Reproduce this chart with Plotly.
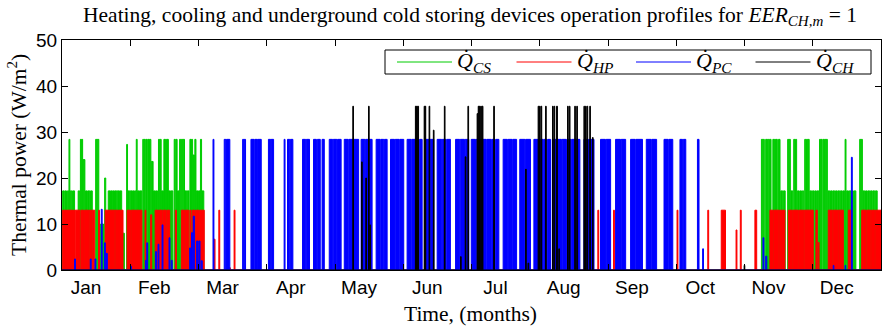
import plotly.graph_objects as go

# Operating profiles: each device is a list of pulses (start day, end day, power W/m2)
YEAR_DAYS = 365
MONTHS = ["Jan", "Feb", "Mar", "Apr", "May", "Jun",
          "Jul", "Aug", "Sep", "Oct", "Nov", "Dec"]

# underground cold storing
CS_PULSES = [
    (0.3, 1.0, 17.2), (1.3, 2.0, 17.2), (2.4, 3.0, 17.2), (3.1, 3.5, 28.4), (3.7, 4.4, 17.2),
    (4.7, 5.6, 17.2), (7.2, 7.9, 17.2), (8.2, 8.6, 28.4), (8.8, 9.2, 28.4), (9.4, 10.2, 24.0),
    (10.5, 11.3, 17.2), (11.6, 12.4, 17.2), (12.7, 13.5, 17.2), (15.0, 15.5, 28.4),
    (15.7, 16.4, 28.4), (17.2, 18.5, 10.0), (19.0, 19.5, 20.0), (20.6, 21.4, 17.2),
    (21.6, 22.4, 17.2), (22.6, 23.4, 17.2), (23.6, 24.4, 17.2), (24.6, 25.4, 17.2),
    (25.6, 26.6, 17.2), (27.0, 27.8, 8.0), (28.8, 29.2, 27.3), (29.4, 30.2, 17.2),
    (30.4, 31.2, 17.2), (31.4, 32.2, 17.2), (32.4, 32.9, 17.2), (33.1, 33.5, 28.4),
    (33.7, 34.5, 17.2), (34.7, 35.6, 17.2), (36.0, 36.4, 28.4), (36.6, 37.0, 28.4),
    (37.3, 38.0, 28.4), (38.3, 38.8, 28.4), (39.0, 39.6, 28.4), (39.8, 40.6, 23.6),
    (40.8, 41.6, 17.2), (41.8, 42.6, 17.2), (43.0, 43.5, 28.4), (43.7, 44.2, 28.4),
    (44.4, 45.2, 17.2), (45.4, 45.9, 28.4), (46.1, 46.6, 28.4), (46.8, 47.4, 28.4),
    (47.6, 48.4, 17.2), (48.6, 49.4, 17.2), (50.0, 50.5, 28.4), (50.8, 51.3, 28.4),
    (51.5, 52.2, 17.2), (52.4, 52.9, 28.4), (53.2, 53.8, 28.4), (54.0, 54.6, 28.4),
    (54.8, 55.6, 17.2), (55.8, 56.6, 17.2), (57.0, 57.5, 28.4), (57.7, 58.2, 28.4),
    (58.4, 59.0, 25.0), (59.2, 59.7, 28.4), (59.9, 60.6, 17.2), (60.8, 61.5, 17.2),
    (61.7, 62.2, 28.4), (62.4, 63.2, 17.2),
    (311.7, 312.3, 28.4), (312.5, 313.0, 28.4), (313.6, 314.2, 28.4), (314.4, 315.0, 28.4),
    (315.3, 316.0, 28.4), (316.8, 317.3, 28.4), (317.5, 318.0, 28.4), (318.2, 318.8, 28.4),
    (319.3, 320.0, 28.4), (320.3, 321.2, 17.2), (321.5, 322.3, 17.2), (323.4, 323.9, 28.4),
    (324.1, 324.6, 28.4), (324.9, 325.7, 17.2), (326.1, 326.6, 28.4), (326.9, 327.4, 28.4),
    (327.7, 328.5, 17.2), (328.8, 329.6, 17.2), (329.9, 330.6, 17.2), (331.0, 331.5, 28.4),
    (331.8, 332.3, 28.4), (332.5, 333.0, 28.4), (333.3, 334.1, 17.2), (334.4, 335.2, 17.2),
    (335.5, 336.2, 17.2), (336.5, 337.3, 17.2), (337.6, 338.1, 28.4), (338.3, 338.8, 28.4),
    (339.2, 339.7, 28.4), (339.9, 340.4, 28.4), (340.6, 341.1, 28.4), (341.4, 342.2, 17.2),
    (342.5, 343.3, 17.2), (343.6, 344.4, 17.2), (344.7, 345.5, 17.2), (345.8, 346.6, 17.2),
    (346.9, 347.7, 17.2), (348.0, 348.8, 17.2), (349.0, 349.4, 28.4), (349.7, 350.5, 17.2),
    (350.8, 351.6, 17.2), (351.9, 352.7, 17.2), (353.0, 353.8, 17.2), (355.5, 356.0, 28.4),
    (356.2, 356.7, 28.4), (357.0, 357.8, 17.2), (358.1, 358.9, 17.2), (359.2, 360.0, 17.2),
    (360.3, 361.1, 17.2), (361.4, 362.2, 17.2), (362.5, 363.3, 17.2), (363.6, 364.4, 10.0),
]

# heat pump
HP_PULSES = [
    (0.3, 2.0, 13.0), (2.2, 4.5, 13.0), (4.7, 5.6, 13.0), (5.9, 8.0, 13.0), (8.4, 9.6, 13.0),
    (10.0, 11.8, 13.0), (12.1, 13.2, 13.0), (13.5, 14.6, 13.0), (16.3, 16.7, 13.0),
    (19.2, 21.0, 13.0), (21.2, 23.5, 13.0), (23.7, 25.2, 13.0), (25.4, 27.2, 13.0),
    (29.0, 30.5, 13.0), (30.8, 32.6, 13.0), (32.8, 34.4, 13.0), (34.6, 35.6, 13.0),
    (37.0, 37.4, 13.0), (39.5, 40.0, 12.0), (41.5, 42.8, 13.0), (43.0, 44.6, 13.0),
    (44.9, 46.4, 13.0), (46.7, 48.0, 13.0), (50.5, 51.0, 13.0), (53.2, 54.6, 13.0),
    (54.9, 56.5, 13.0), (57.0, 57.5, 13.0), (58.0, 59.4, 13.0), (59.7, 61.2, 13.0),
    (61.5, 63.4, 13.0), (67.8, 68.2, 6.7), (69.9, 70.3, 13.0), (74.6, 75.0, 0.5),
    (76.7, 77.1, 13.0), (238.8, 239.2, 13.0), (245.8, 246.2, 13.0), (274.1, 274.5, 13.0),
    (287.8, 288.2, 13.0), (293.8, 295.7, 13.0), (300.4, 300.8, 8.7), (302.3, 302.7, 13.0),
    (308.8, 309.6, 13.0), (315.5, 317.0, 13.0), (317.3, 319.5, 13.0), (319.8, 322.2, 13.0),
    (323.7, 325.5, 13.0), (325.8, 328.0, 13.0), (328.3, 330.5, 13.0), (330.8, 334.8, 13.0),
    (336.0, 336.6, 13.0), (337.0, 337.4, 6.0), (341.5, 343.5, 13.0), (343.8, 345.6, 13.0),
    (345.9, 348.2, 13.0), (350.4, 351.9, 13.0), (356.4, 358.4, 13.0), (358.7, 360.5, 13.0),
    (360.8, 362.3, 13.0), (362.6, 365.0, 13.0),
]

# passive cooling
PC_PULSES = [
    (5.6, 6.0, 2.4), (12.6, 13.0, 2.4), (14.7, 15.1, 2.4), (17.5, 17.9, 13.2), (18.9, 19.3, 5.9),
    (19.6, 20.2, 3.6), (30.6, 31.0, 0.8), (37.2, 37.6, 2.1), (37.8, 38.2, 5.9), (41.7, 42.1, 4.0),
    (42.8, 43.2, 5.6), (44.6, 45.0, 9.8), (47.7, 48.1, 7.0), (48.7, 49.1, 2.1), (56.9, 57.3, 4.8),
    (57.7, 58.2, 8.1), (58.5, 59.0, 11.7), (60.0, 60.6, 6.3), (61.0, 61.5, 6.3), (62.0, 62.5, 2.0),
    (67.3, 67.7, 28.4), (72.3, 73.0, 28.4), (73.3, 74.8, 28.4), (80.5, 81.0, 28.4),
    (81.2, 81.8, 28.4), (84.2, 85.6, 28.4), (85.9, 87.0, 28.4), (87.2, 88.8, 28.4),
    (92.0, 93.0, 28.4), (93.2, 94.3, 28.4), (99.0, 99.4, 28.4), (100.5, 101.5, 28.4),
    (101.8, 102.9, 28.4), (107.2, 108.6, 28.4), (108.9, 110.3, 28.4), (112.1, 113.4, 28.4),
    (113.8, 115.1, 28.4), (115.9, 116.9, 28.4), (119.1, 120.6, 28.4), (120.9, 122.5, 28.4),
    (122.8, 124.4, 28.4), (125.8, 127.6, 28.4), (127.9, 129.7, 28.4), (130.0, 132.2, 28.4),
    (133.3, 135.0, 28.4), (135.3, 136.6, 28.4), (136.9, 138.2, 28.4), (140.0, 141.8, 28.4),
    (142.1, 143.4, 28.4), (143.7, 144.9, 28.4), (146.4, 148.2, 28.4), (148.5, 150.3, 28.4),
    (150.6, 152.3, 28.4), (153.8, 155.6, 28.4), (155.9, 157.6, 28.4), (157.9, 159.2, 28.4),
    (159.5, 160.5, 28.4), (162.0, 163.8, 28.4), (164.1, 165.7, 28.4), (167.2, 169.2, 28.4),
    (169.5, 171.2, 28.4), (171.5, 173.1, 28.4), (175.4, 177.2, 28.4), (177.5, 179.4, 28.4),
    (179.7, 181.3, 28.4), (182.4, 184.3, 28.4), (184.6, 186.8, 28.4), (187.1, 189.0, 28.4),
    (189.3, 191.2, 28.4), (191.5, 193.0, 28.4), (193.3, 194.7, 28.4), (196.6, 198.5, 28.4),
    (198.8, 200.7, 28.4), (201.0, 202.6, 28.4), (204.0, 206.3, 28.4), (206.6, 208.8, 28.4),
    (210.3, 212.2, 28.4), (212.5, 214.5, 28.4), (214.8, 216.3, 28.4), (216.6, 217.7, 28.4),
    (218.5, 220.3, 28.4), (220.6, 222.6, 28.4), (222.9, 224.8, 28.4), (225.1, 227.0, 28.4),
    (227.3, 229.0, 28.4), (229.3, 230.8, 28.4), (232.6, 234.6, 28.4), (234.9, 237.1, 28.4),
    (240.0, 242.2, 28.4), (242.5, 244.5, 28.4), (246.7, 248.9, 28.4), (249.2, 251.2, 28.4),
    (253.4, 255.4, 28.4), (255.7, 258.7, 28.4), (260.4, 262.6, 28.4), (262.9, 265.0, 28.4),
    (268.3, 270.2, 28.4), (270.5, 272.2, 28.4), (275.4, 276.6, 28.4), (276.9, 278.0, 28.4),
    (283.2, 283.9, 28.4), (285.5, 285.9, 4.6), (312.4, 312.8, 7.0), (313.6, 314.1, 3.0),
    (343.7, 344.0, 1.0), (349.0, 349.3, 1.0), (351.8, 352.2, 24.5),
]

# chiller
CH_PULSES = [
    (129.6, 129.9, 35.6), (133.5, 133.8, 23.5), (135.4, 135.7, 20.0), (136.6, 136.9, 35.6),
    (137.2, 137.5, 9.8), (157.5, 157.8, 35.6), (158.0, 158.3, 35.6), (158.5, 158.9, 35.6),
    (161.4, 161.7, 35.6), (161.8, 162.1, 35.6), (163.6, 163.9, 35.6), (165.5, 165.8, 30.4),
    (170.4, 170.7, 35.6), (177.6, 177.9, 2.9), (179.7, 180.0, 24.6), (180.9, 181.2, 35.6),
    (185.0, 185.3, 34.0), (185.5, 185.8, 35.6), (186.0, 186.3, 35.6), (186.6, 186.9, 35.6),
    (187.2, 187.6, 35.6), (192.4, 192.7, 35.6), (206.6, 206.9, 21.9), (207.7, 208.0, 1.5),
    (212.2, 212.5, 35.6), (212.8, 213.1, 35.6), (213.5, 213.8, 35.6), (215.5, 215.8, 35.6),
    (218.6, 218.9, 35.6), (219.3, 219.6, 35.6), (220.4, 220.8, 35.6), (221.4, 221.7, 4.6),
    (225.3, 225.6, 35.6), (226.1, 226.4, 35.6), (228.5, 228.8, 35.6), (229.4, 229.7, 35.6),
    (232.6, 232.9, 35.6), (233.3, 233.6, 35.6), (234.0, 234.3, 35.6), (235.2, 235.5, 35.6),
    (236.4, 236.7, 28.8), (304.0, 304.3, 1.0),
]

SERIES = [
    ("<i>Q\u0307</i><sub><i>CS</i></sub>", CS_PULSES, "#00CC00"),
    ("<i>Q\u0307</i><sub><i>HP</i></sub>", HP_PULSES, "#FF0000"),
    ("<i>Q\u0307</i><sub><i>PC</i></sub>", PC_PULSES, "#0000FF"),
    ("<i>Q\u0307</i><sub><i>CH</i></sub>", CH_PULSES, "#000000"),
]


def pulse_path(pulses):
    """Trace the on/off profile along the baseline, up and down each pulse."""
    xs, ys = [0.0], [0.0]
    for s, e, v in pulses:
        xs += [s, s, e, e]
        ys += [0.0, v, v, 0.0]
    xs.append(YEAR_DAYS)
    ys.append(0.0)
    return xs, ys


fig = go.Figure()
for name, pulses, color in SERIES:
    xs, ys = pulse_path(pulses)
    fig.add_trace(go.Scatter(
        x=xs, y=ys, mode="lines", name=name, showlegend=False,
        line=dict(color=color, width=1), fill="tozeroy", fillcolor=color,
        hoverinfo="skip"))
# empty trace that carries the month-boundary tick axis
fig.add_trace(go.Scatter(x=[0, YEAR_DAYS], y=[None, None], xaxis="x2",
                         showlegend=False, hoverinfo="skip"))

month_len = YEAR_DAYS / 12
label_pos = [k * month_len + 10.7 for k in range(12)]
bounds = [k * month_len for k in range(1, 12)]

SANS = "Liberation Sans, Arial, sans-serif"
SERIF = "Liberation Serif, Times New Roman, serif"
SERIF_SIZE = 21.5

fig.update_layout(
    width=887, height=326,
    margin=dict(l=62, r=6, t=40, b=56),
    paper_bgcolor="white", plot_bgcolor="white",
    showlegend=False,
    xaxis=dict(range=[0, YEAR_DAYS], tickvals=label_pos, ticktext=MONTHS, ticks="",
               showline=True, linecolor="black", linewidth=1, mirror=True,
               showgrid=False, zeroline=False,
               tickfont=dict(family=SANS, size=19, color="black")),
    xaxis2=dict(range=[0, YEAR_DAYS], overlaying="x", side="top", tickvals=bounds,
                ticks="inside", ticklen=6, tickcolor="black", showticklabels=False,
                showline=True, linecolor="black", mirror="ticks",
                showgrid=False, zeroline=False),
    yaxis=dict(range=[0, 50], dtick=10, ticks="inside", ticklen=6, tickcolor="black",
               showline=True, linecolor="black", linewidth=1, mirror="ticks",
               showgrid=False, zeroline=False,
               tickfont=dict(family=SANS, size=19, color="black")),
    title=dict(text="Heating, cooling and underground cold storing devices operation "
                    "profiles for <i>EER</i><sub><i>CH,m</i></sub> = 1",
               x=470 / 887, xanchor="center", y=1 - 14 / 326, yanchor="middle",
               font=dict(family=SERIF, size=SERIF_SIZE, color="black")),
)


def px_x(p):
    return (p - 62) / 819


def px_y(p):
    return (270 - p) / 230


# axis titles
fig.add_annotation(text="Time, (months)", xref="paper", yref="paper",
                   x=px_x(470), y=px_y(314), xanchor="center", yanchor="middle",
                   showarrow=False,
                   font=dict(family=SERIF, size=SERIF_SIZE, color="black"))
fig.add_annotation(text="Thermal power (W/m<sup>2</sup>)", xref="paper", yref="paper",
                   x=px_x(17), y=px_y(155), xanchor="center", yanchor="middle",
                   textangle=-90, showarrow=False,
                   font=dict(family=SERIF, size=SERIF_SIZE, color="black"))

# legend box in the top right corner of the axes
fig.add_shape(type="rect", xref="paper", yref="paper",
              x0=px_x(385), x1=px_x(871), y0=px_y(74), y1=px_y(50),
              line=dict(color="black", width=1), fillcolor="white", layer="above")
for i, (name, _, color) in enumerate(SERIES):
    x0 = 397 + i * 119.5
    fig.add_shape(type="line", xref="paper", yref="paper",
                  x0=px_x(x0), x1=px_x(x0 + 55), y0=px_y(62), y1=px_y(62),
                  line=dict(color=color, width=1), layer="above")
    fig.add_annotation(text=name, xref="paper", yref="paper",
                       x=px_x(x0 + 58), y=px_y(62), xanchor="left", yanchor="middle",
                       showarrow=False, font=dict(family=SERIF, size=22, color="black"))

fig.write_html("out.html")
